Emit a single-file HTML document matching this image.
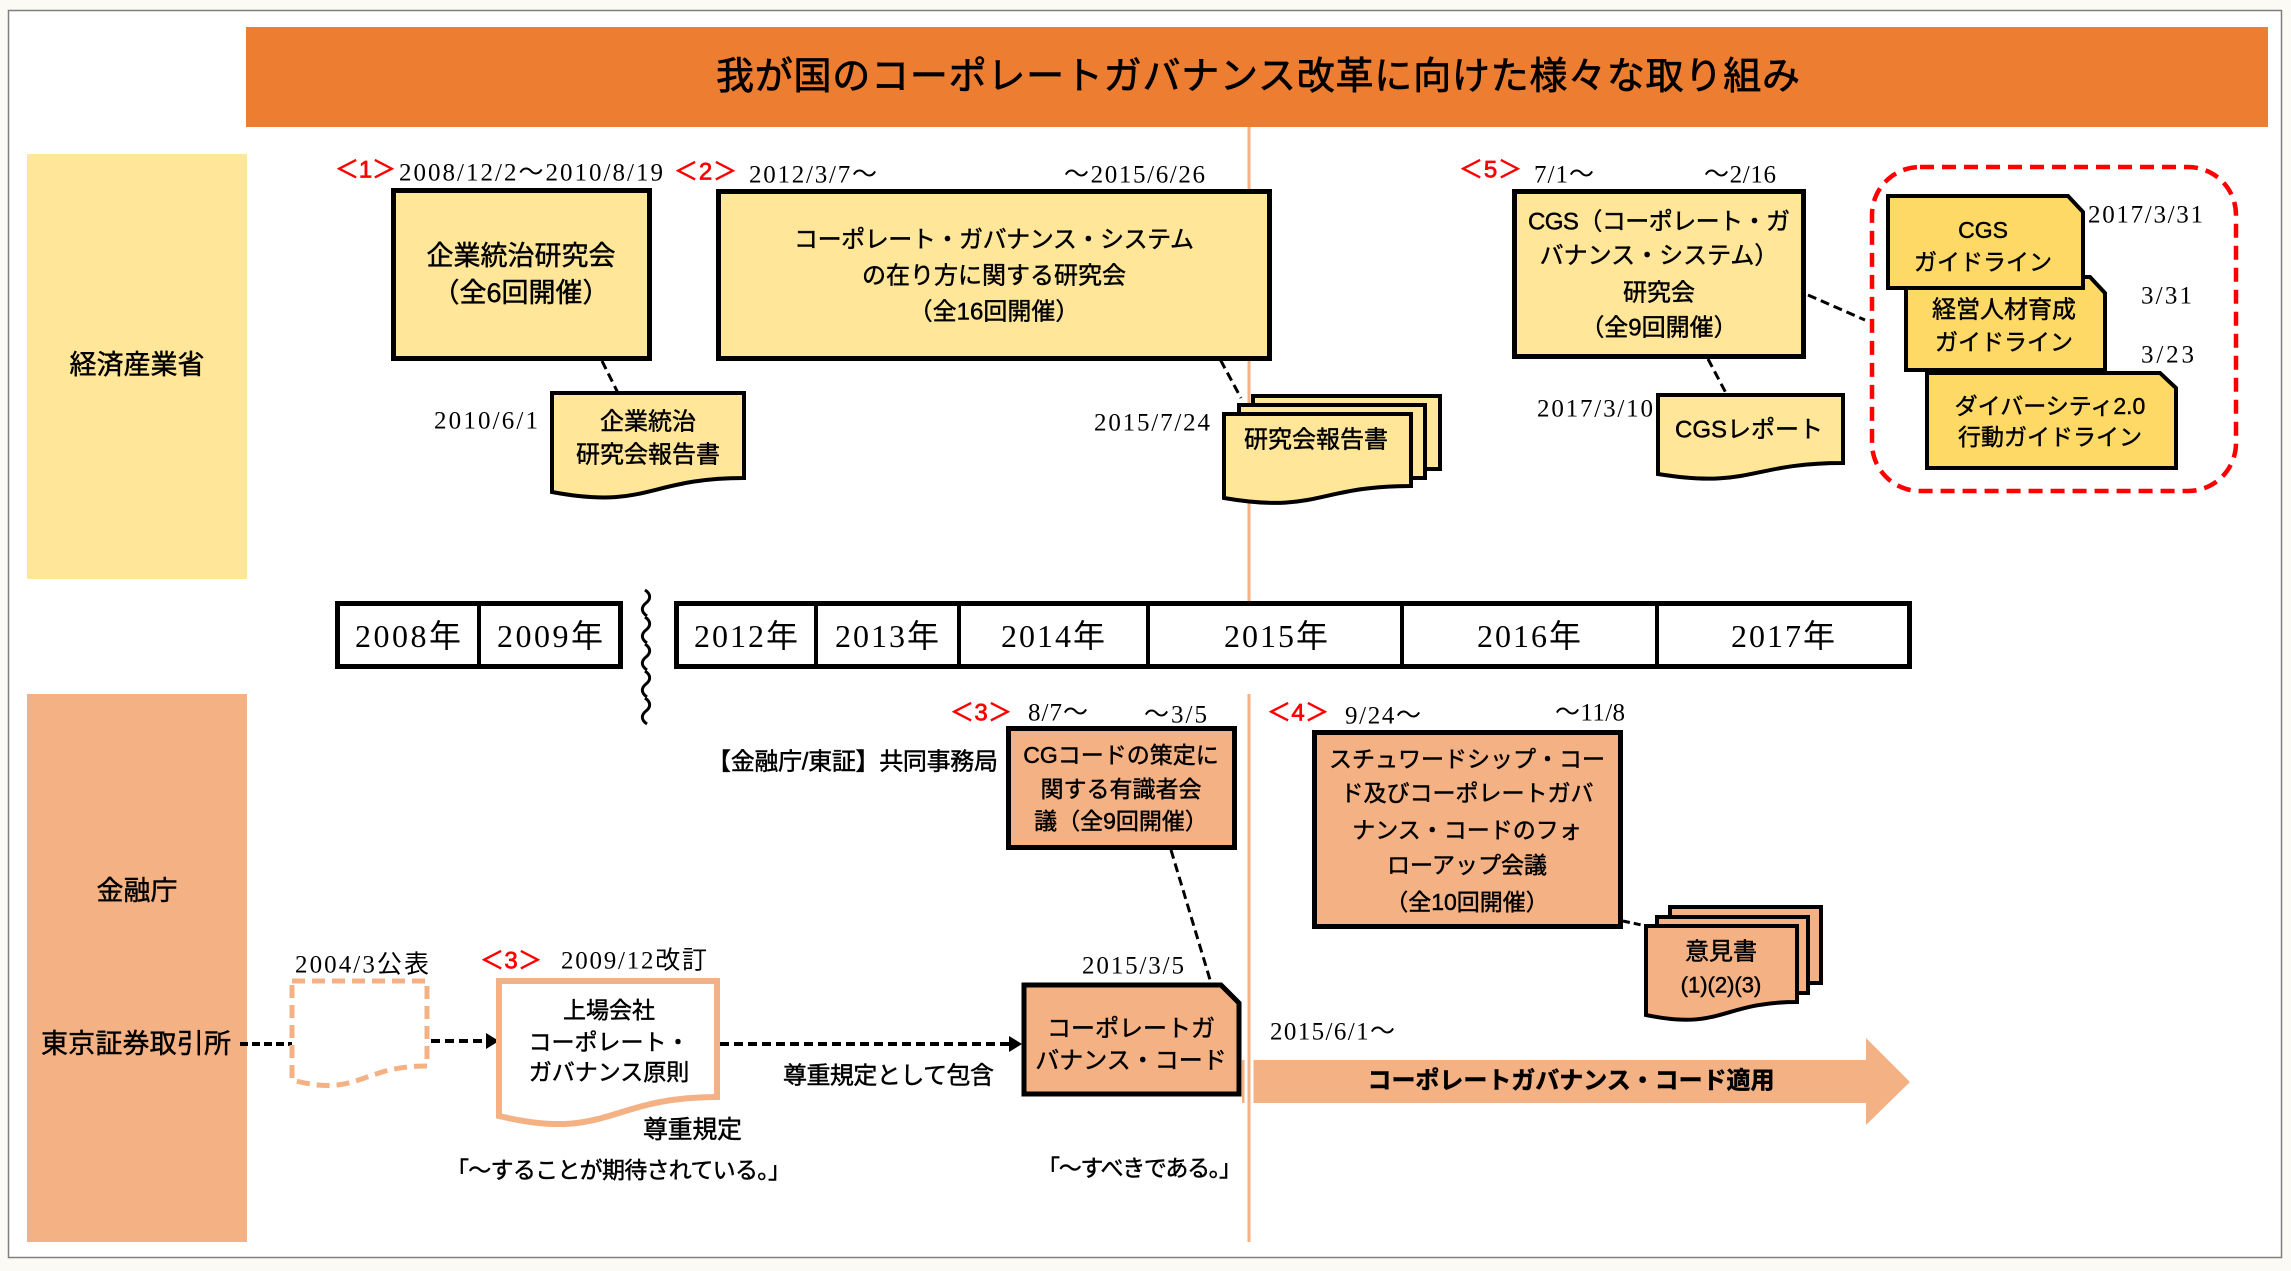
<!DOCTYPE html>
<html lang="ja">
<head>
<meta charset="utf-8">
<style>
  html,body{margin:0;padding:0;background:#FBFAF4;}
  svg{display:block;}
  .g{font-family:"Liberation Sans","Noto Sans CJK JP",sans-serif;stroke:#000;stroke-width:0.45px;}
  .s{font-family:"Liberation Serif","Noto Sans CJK JP",serif;}
  .r{stroke:#FF0000;stroke-width:0.7px;}
  text{dominant-baseline:central;}
</style>
</head>
<body>
<svg width="2291" height="1271" viewBox="0 0 2291 1271" xmlns="http://www.w3.org/2000/svg">
  <!-- page -->
  <rect x="0" y="0" width="2291" height="1271" fill="#FBFAF4"/>
  <rect x="8.5" y="10.5" width="2273" height="1247" fill="#FFFFFF" stroke="#7F7F7F" stroke-width="1.5"/>

  <!-- title -->
  <rect x="246" y="27" width="2022" height="100" fill="#ED7D31"/>
  <text class="g" x="1258" y="77" font-size="38" text-anchor="middle" textLength="1084" fill="#000" style="stroke-width:0.7px">我が国のコーポレートガバナンス改革に向けた様々な取り組み</text>

  <!-- side panels -->
  <rect x="27" y="154" width="220" height="425" fill="#FFE699"/>
  <text class="g" x="137" y="365" font-size="27" text-anchor="middle">経済産業省</text>
  <rect x="27" y="694" width="220" height="548" fill="#F4B183"/>
  <text class="g" x="137" y="891" font-size="27" text-anchor="middle">金融庁</text>
  <text class="g" x="136" y="1044" font-size="27" text-anchor="middle" textLength="190">東京証券取引所</text>

  <!-- vertical orange line -->
  <line x1="1249" y1="127" x2="1249" y2="601" stroke="#F4B183" stroke-width="3"/>
  <line x1="1249" y1="694" x2="1249" y2="1242" stroke="#F4B183" stroke-width="3"/>

  <!-- ===== Timeline ===== -->
  <rect x="337.5" y="603.5" width="283" height="63" fill="#fff" stroke="#000" stroke-width="5"/>
  <line x1="479" y1="603" x2="479" y2="667" stroke="#000" stroke-width="4"/>
  <rect x="676.5" y="603.5" width="1233" height="63" fill="#fff" stroke="#000" stroke-width="5"/>
  <line x1="816" y1="603" x2="816" y2="667" stroke="#000" stroke-width="4"/>
  <line x1="959" y1="603" x2="959" y2="667" stroke="#000" stroke-width="4"/>
  <line x1="1148" y1="603" x2="1148" y2="667" stroke="#000" stroke-width="4"/>
  <line x1="1402" y1="603" x2="1402" y2="667" stroke="#000" stroke-width="4"/>
  <line x1="1657" y1="603" x2="1657" y2="667" stroke="#000" stroke-width="4"/>
  <g class="s" font-size="32" text-anchor="middle">
    <text x="408" y="636" textLength="106">2008年</text>
    <text x="550" y="636" textLength="106">2009年</text>
    <text x="746" y="636" textLength="104">2012年</text>
    <text x="887" y="636" textLength="104">2013年</text>
    <text x="1053" y="636" textLength="104">2014年</text>
    <text x="1276" y="636" textLength="104">2015年</text>
    <text x="1529" y="636" textLength="104">2016年</text>
    <text x="1783" y="636" textLength="104">2017年</text>
  </g>
  <!-- wavy break -->
  <path d="M645,590 c6,4 6,9 1,13 c-5,4 -5,9 1,13 M645,617 c6,4 6,9 1,13 c-5,4 -5,9 1,13 M645,644 c6,4 6,9 1,13 c-5,4 -5,9 1,13 M645,671 c6,4 6,9 1,13 c-5,4 -5,9 1,13 M645,698 c6,4 6,9 1,13 c-5,4 -5,9 1,13" fill="none" stroke="#000" stroke-width="3"/>

  <!-- ===== labels ===== -->
  <g font-family="Liberation Sans, Noto Sans CJK JP, sans-serif" font-size="24" fill="#FF0000" class="r">
    <text x="335" y="170" textLength="61">＜1＞</text>
    <text x="674" y="172" textLength="63">＜2＞</text>
    <text x="1459" y="170" textLength="63">＜5＞</text>
    <text x="950" y="713" textLength="62">＜3＞</text>
    <text x="1267" y="713" textLength="62">＜4＞</text>
    <text x="480" y="961" textLength="62">＜3＞</text>
  </g>
  <g class="s" font-size="25" fill="#000">
    <text x="399" y="173" textLength="264">2008/12/2～2010/8/19</text>
    <text x="749" y="175" textLength="128">2012/3/7～</text>
    <text x="1064" y="175" textLength="141">～2015/6/26</text>
    <text x="1534" y="175" textLength="60">7/1～</text>
    <text x="1704" y="175" textLength="72">～2/16</text>
    <text x="434" y="421" textLength="104">2010/6/1</text>
    <text x="1094" y="423" textLength="116">2015/7/24</text>
    <text x="1537" y="409" textLength="116">2017/3/10</text>
    <text x="2088" y="215" textLength="115">2017/3/31</text>
    <text x="2141" y="296" textLength="51">3/31</text>
    <text x="2141" y="355" textLength="53">3/23</text>
    <text x="1028" y="713" textLength="60">8/7～</text>
    <text x="1144" y="715" textLength="63">～3/5</text>
    <text x="1345" y="716" textLength="76">9/24～</text>
    <text x="1555" y="713" textLength="70">～11/8</text>
    <text x="1082" y="966" textLength="102">2015/3/5</text>
    <text x="1270" y="1032" textLength="125">2015/6/1～</text>
    <text x="295" y="965" textLength="134">2004/3公表</text>
    <text x="561" y="961" textLength="146">2009/12改訂</text>
  </g>

  <!-- dashed connectors (top) -->
  <g stroke="#000" stroke-width="3" stroke-dasharray="9 5" fill="none">
    <line x1="602" y1="361" x2="618" y2="393"/>
    <line x1="1214" y1="348" x2="1241" y2="398"/>
    <line x1="1708" y1="359" x2="1727" y2="395"/>
    <line x1="1808" y1="295" x2="1865" y2="320"/>
  </g>

  <!-- box 1 -->
  <rect x="393.5" y="190.5" width="256" height="168" fill="#FFE699" stroke="#000" stroke-width="5"/>
  <text class="g" x="521" y="256" font-size="27" text-anchor="middle">企業統治研究会</text>
  <text class="g" x="521" y="293" font-size="27" text-anchor="middle">（全6回開催）</text>

  <!-- report 1 -->
  <path d="M552,393 H744 V478 C648,478 648,510 552,492 Z" fill="#FFE699" stroke="#000" stroke-width="4"/>
  <text class="g" x="648" y="422" font-size="24" text-anchor="middle">企業統治</text>
  <text class="g" x="648" y="455" font-size="24" text-anchor="middle">研究会報告書</text>

  <!-- box 2 -->
  <rect x="718.5" y="191.5" width="551" height="167" fill="#FFE699" stroke="#000" stroke-width="5"/>
  <text class="g" x="994" y="240" font-size="24" text-anchor="middle" textLength="400">コーポレート・ガバナンス・システム</text>
  <text class="g" x="994" y="276" font-size="24" text-anchor="middle">の在り方に関する研究会</text>
  <text class="g" x="994" y="312" font-size="24" text-anchor="middle">（全16回開催）</text>

  <!-- report stack 2 -->
  <rect x="1253" y="396" width="187" height="73" fill="#FFE699" stroke="#000" stroke-width="4"/>
  <rect x="1239" y="405" width="186" height="73" fill="#FFE699" stroke="#000" stroke-width="4"/>
  <path d="M1224,414 H1411 V486 C1317.5,486 1317.5,514 1224,498 Z" fill="#FFE699" stroke="#000" stroke-width="4"/>
  <text class="g" x="1316" y="440" font-size="24" text-anchor="middle">研究会報告書</text>

  <!-- CGS box -->
  <rect x="1514.5" y="191.5" width="289" height="165" fill="#FFE699" stroke="#000" stroke-width="5"/>
  <text class="g" x="1659" y="222" font-size="24" text-anchor="middle" textLength="262">CGS（コーポレート・ガ</text>
  <text class="g" x="1659" y="256" font-size="24" text-anchor="middle">バナンス・システム）</text>
  <text class="g" x="1659" y="293" font-size="24" text-anchor="middle">研究会</text>
  <text class="g" x="1659" y="328" font-size="24" text-anchor="middle">（全9回開催）</text>

  <!-- CGS report -->
  <path d="M1658,395 H1843 V463 C1750.5,463 1750.5,489 1658,474 Z" fill="#FFE699" stroke="#000" stroke-width="4"/>
  <text class="g" x="1749" y="430" font-size="24" text-anchor="middle">CGSレポート</text>

  <!-- red dashed group -->
  <rect x="1872" y="167" width="364" height="324" rx="48" ry="48" fill="none" stroke="#FF0000" stroke-width="4.5" stroke-dasharray="14 8"/>
  <!-- cards -->
  <path d="M1927,373 H2160 L2176,388 V468 H1927 Z" fill="#FFD966" stroke="#000" stroke-width="4"/>
  <text class="g" x="2050" y="406" font-size="23" text-anchor="middle">ダイバーシティ2.0</text>
  <text class="g" x="2050" y="437" font-size="23" text-anchor="middle">行動ガイドライン</text>
  <path d="M1906,277 H2090 L2105,293 V370 H1906 Z" fill="#FFD966" stroke="#000" stroke-width="4"/>
  <text class="g" x="2004" y="310" font-size="24" text-anchor="middle">経営人材育成</text>
  <text class="g" x="2004" y="342" font-size="23" text-anchor="middle">ガイドライン</text>
  <path d="M1888,196 H2068 L2083,212 V288 H1888 Z" fill="#FFD966" stroke="#000" stroke-width="4"/>
  <text class="g" x="1983" y="230" font-size="23" text-anchor="middle">CGS</text>
  <text class="g" x="1983" y="262" font-size="23" text-anchor="middle">ガイドライン</text>

  <!-- ===== FSA lower section ===== -->
  <text class="g" x="707" y="762" font-size="24" textLength="291">【金融庁/東証】共同事務局</text>

  <!-- CG council box -->
  <rect x="1008.5" y="728.5" width="226" height="119" fill="#F4B183" stroke="#000" stroke-width="5"/>
  <text class="g" x="1121" y="755" font-size="23" text-anchor="middle">CGコードの策定に</text>
  <text class="g" x="1121" y="789" font-size="23" text-anchor="middle">関する有識者会</text>
  <text class="g" x="1121" y="821" font-size="23" text-anchor="middle">議（全9回開催）</text>

  <!-- dashed CG box to code -->
  <line x1="1171" y1="850" x2="1211" y2="983" stroke="#000" stroke-width="3" stroke-dasharray="9 5"/>

  <!-- CG code doc -->
  <path d="M1024,985 H1221 L1239,1003 V1094 H1024 Z" fill="#F4B183" stroke="#000" stroke-width="5"/>
  <text class="g" x="1131" y="1029" font-size="24" text-anchor="middle">コーポレートガ</text>
  <text class="g" x="1131" y="1061" font-size="24" text-anchor="middle">バナンス・コード</text>
  <text class="g" x="1037" y="1168" font-size="23" textLength="205">「～すべきである。」</text>

  <!-- Stewardship box -->
  <rect x="1314.5" y="732.5" width="306" height="194" fill="#F4B183" stroke="#000" stroke-width="5"/>
  <text class="g" x="1467" y="759" font-size="23" text-anchor="middle">スチュワードシップ・コー</text>
  <text class="g" x="1467" y="793" font-size="23" text-anchor="middle">ド及びコーポレートガバ</text>
  <text class="g" x="1467" y="830" font-size="23" text-anchor="middle">ナンス・コードのフォ</text>
  <text class="g" x="1467" y="865" font-size="23" text-anchor="middle">ローアップ会議</text>
  <text class="g" x="1467" y="902" font-size="23" text-anchor="middle">（全10回開催）</text>

  <line x1="1623" y1="921" x2="1646" y2="926" stroke="#000" stroke-width="3" stroke-dasharray="7 4"/>

  <!-- opinion stack -->
  <rect x="1670" y="907" width="151" height="76" fill="#F4B183" stroke="#000" stroke-width="4"/>
  <rect x="1657" y="917" width="151" height="76" fill="#F4B183" stroke="#000" stroke-width="4"/>
  <path d="M1646,926 H1797 V1002 C1721.5,1002 1721.5,1031 1646,1015 Z" fill="#F4B183" stroke="#000" stroke-width="4"/>
  <text class="g" x="1721" y="952" font-size="24" text-anchor="middle">意見書</text>
  <text class="g" x="1721" y="985" font-size="22" text-anchor="middle">(1)(2)(3)</text>

  <!-- big arrow -->
  <polygon points="1242,1060 1866,1060 1866,1038 1910,1082 1866,1125 1866,1103 1242,1103" fill="#F4B183"/>
  <line x1="1249" y1="1058" x2="1249" y2="1105" stroke="#FFFFFF" stroke-width="9"/>
  <line x1="1249" y1="1056" x2="1249" y2="1107" stroke="#F4B183" stroke-width="3"/>
  <text class="g" x="1571" y="1081" font-size="24" font-weight="bold" text-anchor="middle" textLength="407">コーポレートガバナンス・コード適用</text>

  <!-- TSE chain -->
  <line x1="240" y1="1044" x2="292" y2="1044" stroke="#000" stroke-width="4" stroke-dasharray="8 4"/>
  <path d="M292,981 H427 V1066 C359.5,1066 359.5,1098 292,1080 Z" fill="#FFFFFF" stroke="#F4B183" stroke-width="5" stroke-dasharray="13 7"/>

  <line x1="431" y1="1041" x2="488" y2="1041" stroke="#000" stroke-width="4" stroke-dasharray="9 5"/>
  <polygon points="486,1033 499,1041 486,1049" fill="#000"/>

  <path d="M499,981 H717 V1097 C608,1097 608,1142 499,1116 Z" fill="#FFFFFF" stroke="#F4B183" stroke-width="6"/>
  <text class="g" x="609" y="1010" font-size="23" text-anchor="middle">上場会社</text>
  <text class="g" x="609" y="1042" font-size="23" text-anchor="middle">コーポレート・</text>
  <text class="g" x="609" y="1072" font-size="23" text-anchor="middle">ガバナンス原則</text>

  <line x1="720" y1="1044" x2="1011" y2="1044" stroke="#000" stroke-width="4" stroke-dasharray="9 5"/>
  <polygon points="1009,1036 1022,1044 1009,1052" fill="#000"/>

  <text class="g" x="783" y="1076" font-size="24" textLength="211">尊重規定として包含</text>
  <text class="g" x="643" y="1130" font-size="25" textLength="99">尊重規定</text>
  <text class="g" x="446" y="1170" font-size="23" textLength="345">「～することが期待されている。」</text>
</svg>
</body>
</html>
